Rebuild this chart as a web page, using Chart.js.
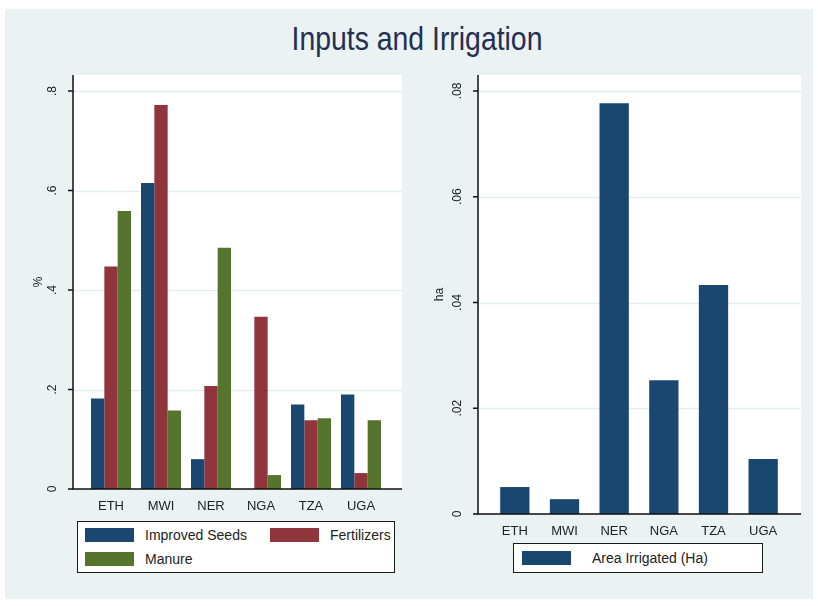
<!DOCTYPE html>
<html>
<head>
<meta charset="utf-8">
<script src="https://cdn.jsdelivr.net/npm/chart.js@4/dist/chart.umd.min.js"></script>
<style>
  body { margin: 0; background: #fff; width: 818px; height: 606px; position: relative; overflow: hidden; font-family: 'Liberation Sans', Arial, sans-serif; }
  #bg { position: absolute; left: 5px; top: 9px; width: 808px; height: 590px; background: #eaf2f3; }
  #title { position: absolute; left: 0; top: 21px; width: 834px; text-align: center; font-size: 33px; line-height: 36px; color: #232f52; transform: scaleX(0.86); transform-origin: 417px 0; }
  canvas { position: absolute; top: 0; }
  .legend { position: absolute; background: #fff; border: 1.5px solid #1a1a1a; box-sizing: border-box; }
  .item { position: absolute; font-size: 14px; line-height: 16px; color: #222; white-space: nowrap; }
  .sw { position: absolute; }
</style>
</head>
<body>
<div id="bg"></div>
<div id="title">Inputs and Irrigation</div>
<canvas id="leftChart" width="430" height="606" style="left:0"></canvas>
<canvas id="rightChart" width="388" height="606" style="left:430px"></canvas>
<div id="legendLeft" class="legend" style="left:77px;top:521px;width:318px;height:52px;"></div>
<div id="legendRight" class="legend" style="left:513px;top:543px;width:250px;height:30px;"></div>
<script>
const countries = ['ETH', 'MWI', 'NER', 'NGA', 'TZA', 'UGA'];
const improvedSeeds = [0.182, 0.615, 0.060, 0, 0.170, 0.190];
const fertilizers = [0.447, 0.772, 0.207, 0.346, 0.138, 0.032];
const manure = [0.559, 0.158, 0.485, 0.028, 0.142, 0.138];
const areaIrrigated = [0.0051, 0.0028, 0.0777, 0.0253, 0.0433, 0.0104];

const leftTicks = [0, 0.2, 0.4, 0.6, 0.8];
const leftTickLabels = ['0', '.2', '.4', '.6', '.8'];
const rightTicks = [0, 0.02, 0.04, 0.06, 0.08];
const rightTickLabels = ['0', '.02', '.04', '.06', '.08'];

const leftNames = ['Improved Seeds', 'Fertilizers', 'Manure'];
const rightNames = ['Area Irrigated (Ha)'];
const colors = ['#1a476f', '#90353b', '#55752f'];

const font = "'Liberation Sans', Arial, sans-serif";

// stata-like plot region: white box a bit wider than the bars, rotated y labels
const framePlugin = {
  id: 'frame',
  beforeDraw(chart, args, opts) {
    const { ctx, chartArea: a } = chart;
    const y = chart.scales.y;
    const l = a.left - opts.padL, r = a.right + opts.padR;
    ctx.save();
    ctx.fillStyle = '#fff';
    ctx.fillRect(l, a.top - opts.padT, r - l, a.bottom - a.top + opts.padT);
    ctx.strokeStyle = '#e4edf0';
    ctx.lineWidth = 1.5;
    opts.ticks.forEach(v => {
      if (v === 0) return;
      const py = Math.round(y.getPixelForValue(v)) + 0.5;
      ctx.beginPath();
      ctx.moveTo(l, py);
      ctx.lineTo(r, py);
      ctx.stroke();
    });
    ctx.restore();
  },
  afterDatasetsDraw(chart, args, opts) {
    const { ctx, chartArea: a } = chart;
    const y = chart.scales.y;
    const l = a.left - opts.padL, r = a.right + opts.padR;
    ctx.save();
    ctx.strokeStyle = '#111';
    ctx.lineWidth = 1.5;
    ctx.beginPath();
    ctx.moveTo(l, a.top - opts.padT);
    ctx.lineTo(l, a.bottom);
    ctx.lineTo(r, a.bottom);
    ctx.stroke();
    ctx.fillStyle = '#222';
    ctx.font = '12px ' + font;
    ctx.textAlign = 'center';
    ctx.textBaseline = 'middle';
    opts.ticks.forEach((v, i) => {
      const py = y.getPixelForValue(v);
      ctx.beginPath();
      ctx.moveTo(l - 5, py);
      ctx.lineTo(l, py);
      ctx.stroke();
      ctx.save();
      ctx.translate(l - opts.labelOff, py);
      ctx.rotate(-Math.PI / 2);
      ctx.fillText(opts.labels[i], 0, 0);
      ctx.restore();
    });
    ctx.save();
    ctx.translate(l - opts.titleOff, (a.top - opts.padT + a.bottom) / 2);
    ctx.rotate(-Math.PI / 2);
    ctx.font = '12px ' + font;
    ctx.fillText(opts.title, 0, 0);
    ctx.restore();
    ctx.restore();
  }
};

const xScale = {
  grid: { display: false, drawTicks: false },
  border: { display: false },
  ticks: { color: '#222', font: { family: font, size: 13 }, padding: 10, maxRotation: 0 },
  afterFit: s => { s.height = 30; }
};

const leftChart = new Chart(document.getElementById('leftChart'), {
  type: 'bar',
  data: {
    labels: countries,
    datasets: [improvedSeeds, fertilizers, manure].map((d, i) => ({
      label: leftNames[i],
      data: d,
      backgroundColor: colors[i],
      categoryPercentage: 0.8,
      barPercentage: 1
    }))
  },
  plugins: [framePlugin],
  options: {
    responsive: false,
    animation: false,
    layout: { padding: { left: 86, right: 44, top: 91, bottom: 87 } },
    plugins: {
      legend: { display: false },
      tooltip: { enabled: false },
      frame: { padL: 13, padR: 16, padT: 16, ticks: leftTicks, labels: leftTickLabels, labelOff: 20, titleOff: 34, title: '%' }
    },
    scales: {
      x: xScale,
      y: { display: false, min: 0, max: 0.8 }
    }
  }
});

const rightChart = new Chart(document.getElementById('rightChart'), {
  type: 'bar',
  data: {
    labels: countries,
    datasets: [{
      label: rightNames[0],
      data: areaIrrigated,
      backgroundColor: colors[0],
      categoryPercentage: 1,
      barPercentage: 0.59
    }]
  },
  plugins: [framePlugin],
  options: {
    responsive: false,
    animation: false,
    layout: { padding: { left: 60, right: 30, top: 91, bottom: 62 } },
    plugins: {
      legend: { display: false },
      tooltip: { enabled: false },
      frame: { padL: 12, padR: 13, padT: 16, ticks: rightTicks, labels: rightTickLabels, labelOff: 20, titleOff: 38, title: 'ha' }
    },
    scales: {
      x: xScale,
      y: { display: false, min: 0, max: 0.08 }
    }
  }
});

// boxed legends below each panel, filled from the datasets
function addItem(box, name, color, sx, sy, tx) {
  const sw = document.createElement('div');
  sw.className = 'sw';
  sw.style.cssText = `left:${sx}px;top:${sy}px;width:49px;height:14px;background:${color}`;
  box.appendChild(sw);
  const t = document.createElement('div');
  t.className = 'item';
  t.style.cssText = `left:${tx}px;top:${sy - 1}px`;
  t.textContent = name;
  box.appendChild(t);
}
const ll = document.getElementById('legendLeft');
leftChart.data.datasets.forEach((ds, i) => {
  const col = i === 1 ? 1 : 0, row = i === 2 ? 1 : 0;
  addItem(ll, ds.label, ds.backgroundColor, 7 + col * 185, 6 + row * 24, 67 + col * 185);
});
const lr = document.getElementById('legendRight');
rightChart.data.datasets.forEach(ds => {
  addItem(lr, ds.label, ds.backgroundColor, 8, 7, 78);
});
</script>
</body>
</html>
